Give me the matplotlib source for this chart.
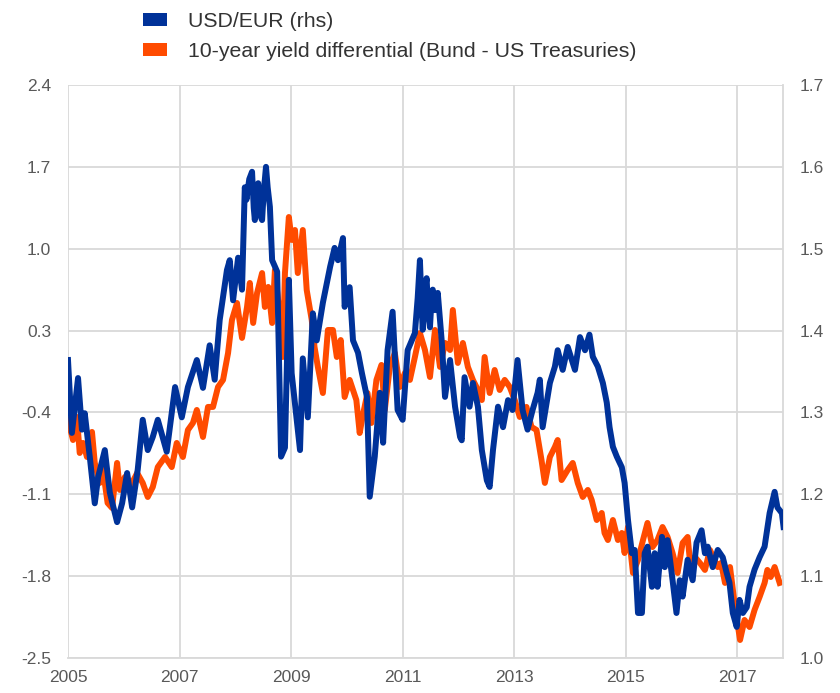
import matplotlib.pyplot as plt
from matplotlib.patches import Patch

plt.rcParams['font.family'] = ['Liberation Sans', 'DejaVu Sans']

BLUE = '#003299'
ORANGE = '#ff4b00'
GRID = '#d9d9d9'
TXT = '#595959'

# USD/EUR (right axis), decimal year / rate
usd_t = [2005.00, 2005.07, 2005.18, 2005.25, 2005.30, 2005.39, 2005.48, 2005.54, 2005.66, 2005.75,
         2005.88, 2005.97, 2006.06, 2006.15, 2006.25, 2006.34, 2006.43, 2006.52, 2006.61, 2006.77,
         2006.92, 2007.04, 2007.15, 2007.31, 2007.42, 2007.54, 2007.63, 2007.72, 2007.85, 2007.90,
         2007.96, 2008.05, 2008.12, 2008.17, 2008.20, 2008.25, 2008.30, 2008.33, 2008.35, 2008.38,
         2008.41, 2008.45, 2008.48, 2008.51, 2008.55, 2008.58, 2008.62,
         2008.66, 2008.75, 2008.82, 2008.89, 2008.96, 2009.01, 2009.16, 2009.21, 2009.30, 2009.39,
         2009.46, 2009.57, 2009.70, 2009.78, 2009.84, 2009.93, 2009.96, 2010.05, 2010.11, 2010.20,
         2010.27, 2010.36, 2010.41, 2010.50, 2010.59, 2010.65, 2010.73, 2010.82, 2010.91, 2011.00,
         2011.09, 2011.22, 2011.27, 2011.31, 2011.34, 2011.36, 2011.40, 2011.43, 2011.46, 2011.49,
         2011.52, 2011.54, 2011.58, 2011.63, 2011.70, 2011.76,
         2011.85, 2011.94, 2012.03, 2012.06, 2012.11, 2012.20, 2012.26, 2012.35, 2012.42, 2012.51,
         2012.56, 2012.62, 2012.71, 2012.80, 2012.89, 2012.97, 2013.06, 2013.15, 2013.24, 2013.33,
         2013.42, 2013.46, 2013.51, 2013.64, 2013.73, 2013.78, 2013.87, 2013.96, 2014.09, 2014.18,
         2014.27, 2014.35, 2014.41, 2014.50, 2014.59, 2014.66, 2014.71, 2014.77, 2014.84, 2014.93,
         2014.98, 2015.04, 2015.11, 2015.16, 2015.22, 2015.29, 2015.34, 2015.39, 2015.47, 2015.52,
         2015.57, 2015.65, 2015.70, 2015.75, 2015.84, 2015.91, 2015.97, 2016.02, 2016.11, 2016.20,
         2016.27, 2016.36, 2016.42, 2016.47, 2016.56, 2016.65, 2016.74, 2016.81, 2016.86, 2016.92,
         2016.99, 2017.04, 2017.10, 2017.17, 2017.22, 2017.31, 2017.40, 2017.49, 2017.58, 2017.67,
         2017.72, 2017.80, 2017.83]
usd_v = [1.364, 1.275, 1.342, 1.279, 1.299, 1.246, 1.189, 1.221, 1.254, 1.202,
         1.166, 1.189, 1.226, 1.184, 1.230, 1.291, 1.254, 1.270, 1.291, 1.252,
         1.331, 1.294, 1.331, 1.364, 1.330, 1.382, 1.340, 1.413, 1.474, 1.486,
         1.437, 1.489, 1.450, 1.575, 1.560, 1.585, 1.594, 1.550, 1.535, 1.570,
         1.580, 1.540, 1.535, 1.570, 1.600, 1.575, 1.551,
         1.486, 1.472, 1.246, 1.257, 1.462, 1.348, 1.254, 1.366, 1.294, 1.421,
         1.388, 1.434, 1.478, 1.501, 1.486, 1.513, 1.429, 1.453, 1.388, 1.373,
         1.348, 1.319, 1.197, 1.246, 1.324, 1.263, 1.376, 1.423, 1.303, 1.291,
         1.376, 1.397, 1.440, 1.486, 1.430, 1.401, 1.450, 1.464, 1.420, 1.404,
         1.440, 1.450, 1.425, 1.446, 1.388, 1.319,
         1.364, 1.307, 1.270, 1.266, 1.343, 1.307, 1.336, 1.307, 1.254, 1.217,
         1.209, 1.254, 1.307, 1.282, 1.315, 1.303, 1.364, 1.303, 1.279, 1.303,
         1.324, 1.340, 1.282, 1.336, 1.356, 1.376, 1.352, 1.380, 1.352, 1.392,
         1.376, 1.395, 1.368, 1.356, 1.336, 1.312, 1.282, 1.258, 1.246, 1.233,
         1.214, 1.169, 1.128, 1.132, 1.055, 1.055, 1.128, 1.136, 1.087, 1.128,
         1.087, 1.148, 1.111, 1.144, 1.095, 1.055, 1.095, 1.075, 1.120, 1.095,
         1.141, 1.156, 1.128, 1.136, 1.111, 1.132, 1.123, 1.104, 1.092, 1.055,
         1.038, 1.071, 1.055, 1.062, 1.087, 1.108, 1.123, 1.136, 1.177, 1.203,
         1.184, 1.177, 1.160]

# 10-year yield differential Bund - UST (left axis), percentage points
diff_t = [2005.00, 2005.09, 2005.16, 2005.21, 2005.27, 2005.34, 2005.43, 2005.48, 2005.57, 2005.62,
          2005.71, 2005.79, 2005.88, 2005.93, 2006.02, 2006.11, 2006.24, 2006.34, 2006.43, 2006.52,
          2006.61, 2006.74, 2006.86, 2006.95, 2007.06, 2007.15, 2007.24, 2007.31, 2007.42, 2007.51,
          2007.60, 2007.69, 2007.78, 2007.87, 2007.94, 2008.03, 2008.12, 2008.21, 2008.26, 2008.32,
          2008.39, 2008.48, 2008.53, 2008.59, 2008.66, 2008.71, 2008.78, 2008.85, 2008.89, 2008.96,
          2009.01, 2009.07, 2009.12, 2009.21, 2009.28, 2009.37, 2009.42, 2009.48, 2009.57, 2009.66,
          2009.75, 2009.82, 2009.89, 2009.96, 2010.05, 2010.17, 2010.23, 2010.28, 2010.37, 2010.44,
          2010.53, 2010.62, 2010.68, 2010.77, 2010.86, 2010.95, 2011.04, 2011.13, 2011.22, 2011.31,
          2011.40, 2011.49, 2011.58, 2011.67, 2011.76, 2011.85, 2011.90, 2011.99, 2012.08, 2012.17,
          2012.26, 2012.35, 2012.42, 2012.47, 2012.56, 2012.65, 2012.74, 2012.83, 2012.92, 2013.01,
          2013.10, 2013.22, 2013.31, 2013.40, 2013.49, 2013.55, 2013.64, 2013.73, 2013.78, 2013.85,
          2013.96, 2014.05, 2014.14, 2014.23, 2014.32, 2014.39, 2014.48, 2014.57, 2014.62, 2014.68,
          2014.77, 2014.86, 2014.93, 2014.98, 2015.04, 2015.13, 2015.22, 2015.31, 2015.39, 2015.48,
          2015.57, 2015.66, 2015.75, 2015.84, 2015.93, 2016.02, 2016.11, 2016.15, 2016.24, 2016.33,
          2016.42, 2016.51, 2016.65, 2016.71, 2016.78, 2016.87, 2016.96, 2017.05, 2017.13, 2017.22,
          2017.31, 2017.40, 2017.49, 2017.54, 2017.60, 2017.67, 2017.76]
diff_v = [-0.465, -0.636, -0.439, -0.747, -0.661, -0.781, -0.567, -0.832, -1.003, -0.867,
          -1.174, -1.217, -0.832, -1.063, -0.952, -1.038, -0.918, -1.003, -1.123, -1.038,
          -0.867, -0.781, -0.867, -0.661, -0.781, -0.550, -0.490, -0.379, -0.610, -0.353,
          -0.353, -0.182, -0.122, 0.108, 0.391, 0.536, 0.237, 0.502, 0.707, 0.365,
          0.621, 0.792, 0.502, 0.673, 0.365, 0.818, 0.502, 0.074, 0.792, 1.271,
          1.075, 1.160, 0.792, 1.160, 0.647, 0.391, 0.160, -0.011, -0.234, 0.305,
          0.305, 0.074, 0.219, -0.268, -0.122, -0.294, -0.576, -0.439, -0.234, -0.490,
          -0.122, 0.006, -0.379, -0.011, 0.108, -0.182, -0.063, -0.122, 0.074, 0.279,
          0.134, -0.097, 0.305, -0.011, 0.194, 0.134, 0.476, 0.023, 0.194, -0.011,
          -0.122, -0.208, -0.294, 0.074, -0.234, -0.037, -0.208, -0.122, -0.182, -0.294,
          -0.439, -0.353, -0.524, -0.550, -0.807, -1.003, -0.781, -0.695, -0.636, -0.978,
          -0.892, -0.832, -1.003, -1.123, -1.063, -1.149, -1.320, -1.260, -1.431, -1.491,
          -1.320, -1.491, -1.431, -1.602, -1.380, -1.773, -1.662, -1.491, -1.345, -1.551,
          -1.491, -1.380, -1.465, -1.602, -1.773, -1.516, -1.465, -1.662, -1.636, -1.687,
          -1.747, -1.576, -1.722, -1.687, -1.858, -1.722, -2.064, -2.346, -2.175, -2.235,
          -2.089, -1.978, -1.858, -1.747, -1.807, -1.722, -1.858]

left_ticks = [-2.5, -1.8, -1.1, -0.4, 0.3, 1.0, 1.7, 2.4]
right_ticks = [1.0, 1.1, 1.2, 1.3, 1.4, 1.5, 1.6, 1.7]
year_ticks = [2005, 2007, 2009, 2011, 2013, 2015, 2017]

fig = plt.figure(figsize=(8.4, 6.93), dpi=100)
ax = fig.add_axes([68 / 840, 35 / 693, 715 / 840, 573 / 693])
ax2 = ax.twinx()

ax.plot(diff_t, diff_v, color=ORANGE, lw=4.3, solid_joinstyle='round', zorder=3)
ax2.plot(usd_t, usd_v, color=BLUE, lw=4.3, solid_joinstyle='round', zorder=3)

ax.set_xlim(2005, 2017.82)
ax.set_ylim(-2.5, 2.4)
ax2.set_ylim(1.0, 1.7)
ax.set_yticks(left_ticks)
ax.set_yticklabels([f'{v:.1f}' for v in left_ticks])
ax2.set_yticks(right_ticks)
ax2.set_yticklabels([f'{v:.1f}' for v in right_ticks])
ax.set_xticks(year_ticks)
ax.set_xticklabels([str(y) for y in year_ticks])

ax.grid(True, color=GRID, lw=1.3, zorder=0)
ax.set_axisbelow(True)
for a in (ax, ax2):
	for s in a.spines.values():
		s.set_visible(False)
ax2.spines['right'].set_visible(True)
ax2.spines['right'].set_color(GRID)
ax2.spines['right'].set_linewidth(1.3)
ax.spines['bottom'].set_visible(True)
ax.spines['bottom'].set_color(GRID)
ax.spines['bottom'].set_linewidth(1.3)

ax.tick_params(axis='y', length=0, pad=12, labelsize=12.5, labelcolor=TXT)
ax.tick_params(axis='x', length=0, pad=9, labelsize=12.5, labelcolor=TXT)
ax2.tick_params(axis='y', length=0, pad=12, labelsize=12.5, labelcolor=TXT)

handles = [Patch(facecolor=BLUE, edgecolor='none'), Patch(facecolor=ORANGE, edgecolor='none')]
labels = ['USD/EUR (rhs)', '10-year yield differential (Bund - US Treasuries)']
fig.legend(handles, labels, loc='upper left', bbox_to_anchor=(124 / 840, 1.01),
	frameon=False, fontsize=15.3, handlelength=1.1, handleheight=0.6,
	handletextpad=1.0, labelspacing=0.5, labelcolor='#333333')

fig.savefig('out.png', dpi=100)
